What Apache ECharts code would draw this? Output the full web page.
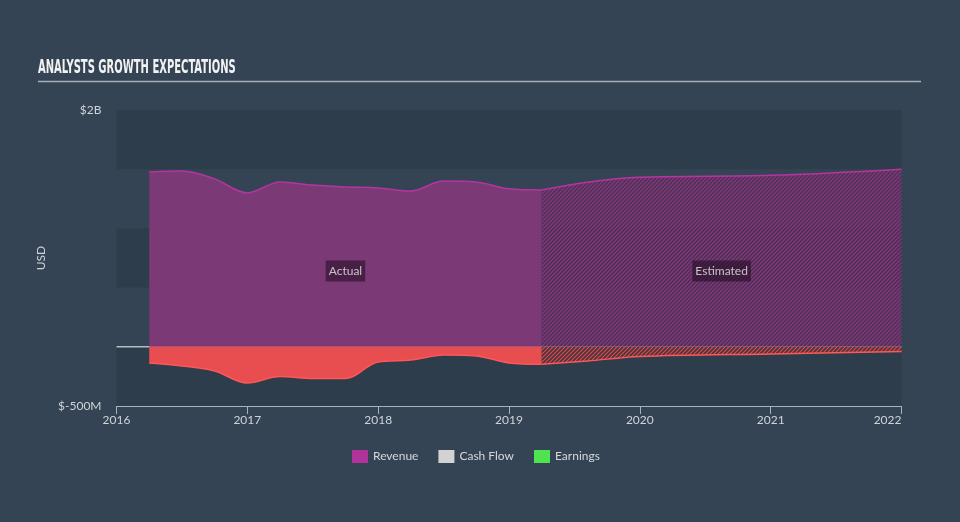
<!DOCTYPE html>
<html>
<head>
<meta charset="utf-8">
<script src="https://cdn.jsdelivr.net/npm/echarts@6/dist/echarts.min.js"></script>
<style>
html,body{margin:0;padding:0;background:#344454;}
#chart{width:960px;height:522px;}
</style>
</head>
<body>
<div id="chart"></div>
<script>
// ---- data (values in USD millions) ----
const revenueActualX = [2016.25, 2016.5, 2016.75, 2017.0, 2017.25, 2017.5, 2017.75, 2018.0, 2018.25, 2018.5, 2018.75, 2019.0, 2019.25];
const revenueActual  = [1476, 1484, 1418, 1300, 1392, 1366, 1350, 1342, 1316, 1400, 1392, 1334, 1324];
const revenueEstX    = [2019.25, 2019.6, 2020.0, 2021.0, 2022.0];
const revenueEst     = [1324, 1390, 1432, 1448, 1500];

const earningsActualX = [2016.25, 2016.5, 2016.75, 2017.0, 2017.25, 2017.5, 2017.75, 2018.0, 2018.25, 2018.5, 2018.75, 2019.0, 2019.25];
const earningsActual  = [-136, -162, -204, -306, -250, -268, -268, -128, -112, -70, -78, -136, -148];
const earningsEstX    = [2019.25, 2019.6, 2020.0, 2021.0, 2022.0];
const earningsEst     = [-148, -120, -82, -60, -40];

const cashFlowX = [];
const cashFlow  = [];

const xTicks = [2016, 2017, 2018, 2019, 2020, 2021, 2022];
const yMin = -500, yMax = 2000, yStep = 500;
const zeroLineX = [2016, 2022];
const regionLabels = [
  {name: 'Actual', x: 2017.75, y: 640},
  {name: 'Estimated', x: 2020.625, y: 640}
];
const legendNames = ['Revenue', 'Cash Flow', 'Earnings'];
const legendColors = ['#b0339b', '#d2d2d2', '#4fe34f'];

function pairs(xs, ys){ return xs.map((x,i)=>[x, ys[i]]); }

function hatch(color, baseColor, lw){
  const s = 4;
  const c = document.createElement('canvas');
  c.width = s; c.height = s;
  const ctx = c.getContext('2d');
  ctx.fillStyle = baseColor;
  ctx.fillRect(0,0,s,s);
  ctx.strokeStyle = color;
  ctx.lineWidth = lw;
  ctx.beginPath();
  for (let k = -1; k <= 1; k++) {
    ctx.moveTo(k*s - 1, s + 1);
    ctx.lineTo(k*s + s + 1, -1);
  }
  ctx.stroke();
  return {image: c, repeat: 'repeat'};
}

const font = 'Lato';
const revFill = '#7b3975';
const revLine = '#b5359f';
const earnFill = '#e84d4f';
const earnLine = '#ff5757';

const chart = echarts.init(document.getElementById('chart'), null, {renderer: 'canvas'});
const option = {
  backgroundColor: '#344454',
  animation: false,
  textStyle: {fontFamily: font},
  graphic: [
    {type: 'text', left: 38, top: 58, scaleX: 0.555,
     style: {text: 'ANALYSTS GROWTH EXPECTATIONS', fill: '#f2f2f2',
       font: 'bold 20px "Liberation Sans Narrow", "DejaVu Sans Condensed", sans-serif'}},
    {type: 'line', shape: {x1: 38, y1: 81.5, x2: 921, y2: 81.5},
     style: {stroke: '#a9b0b8', lineWidth: 1.5}}
  ],
  grid: {left: 116.5, right: 58.5, top: 110, bottom: 116, containLabel: false},
  legend: {
    bottom: 54, left: 347,
    icon: 'rect', itemWidth: 16, itemHeight: 13, itemGap: 20,
    selectedMode: false,
    textStyle: {color: '#d4d8dc', fontSize: 12, fontFamily: font},
    data: legendNames.map((n,i)=>({name: n, itemStyle: {color: legendColors[i], borderWidth: 0}}))
  },
  xAxis: {
    type: 'value', min: xTicks[0], max: xTicks[xTicks.length-1], interval: 1,
    axisLine: {show: true, onZero: false, lineStyle: {color: '#aab3bd', width: 1}},
    axisTick: {show: true, length: 8, lineStyle: {color: '#aab3bd'}},
    axisLabel: {color: '#cfd4d9', fontSize: 12, margin: 8, fontFamily: font,
      formatter: v => String(Math.round(v)), alignMaxLabel: 'right'},
    splitLine: {show: false}
  },
  yAxis: {
    type: 'value', min: yMin, max: yMax, interval: yStep,
    name: 'USD', nameLocation: 'middle', nameGap: 41, nameRotate: 90,
    nameTextStyle: {color: '#cfd4d9', fontSize: 12, fontFamily: font},
    axisLine: {show: false}, axisTick: {show: false},
    axisLabel: {color: '#cfd4d9', fontSize: 12, margin: 15, fontFamily: font, padding: [0, 0, 4, 0],
      formatter: v => v === yMax ? '$' + (v/1000) + 'B' : (v === yMin ? '$' + v + 'M' : '')},
    splitLine: {show: false},
    splitArea: {show: true, areaStyle: {color: ['#2e3d4b', 'rgba(0,0,0,0)']}}
  },
  series: [
    {name: 'zero', type: 'line', data: pairs(zeroLineX, [0, 0]), z: 1, silent: true,
     symbol: 'none', lineStyle: {color: '#b3bbc4', width: 1.5}},
    {name: 'Revenue', type: 'line', data: pairs(revenueActualX, revenueActual), z: 3,
     smooth: 0.35, symbol: 'none', itemStyle: {color: legendColors[0]},
     lineStyle: {color: revLine, width: 1.5}, areaStyle: {color: revFill, opacity: 1}},
    {name: 'Revenue', type: 'line', data: pairs(revenueEstX, revenueEst), z: 3,
     smooth: 0.35, symbol: 'none', itemStyle: {color: legendColors[0]},
     lineStyle: {color: revLine, width: 1.5},
     areaStyle: {color: hatch('rgba(128,58,122,1)', 'rgba(90,40,88,0.75)', 1.3), opacity: 1}},
    {name: 'Cash Flow', type: 'line', data: pairs(cashFlowX, cashFlow), z: 3,
     symbol: 'none', itemStyle: {color: legendColors[1]}, lineStyle: {color: '#d2d2d2'}},
    {name: 'Earnings', type: 'line', data: pairs(earningsActualX, earningsActual), z: 3,
     smooth: 0.35, symbol: 'none', itemStyle: {color: legendColors[2]},
     lineStyle: {color: earnLine, width: 1.5}, areaStyle: {color: earnFill, opacity: 1}},
    {name: 'Earnings', type: 'line', data: pairs(earningsEstX, earningsEst), z: 3,
     smooth: 0.35, symbol: 'none', itemStyle: {color: legendColors[2]},
     lineStyle: {color: earnLine, width: 1.5},
     areaStyle: {color: hatch('rgba(225,75,77,1)', 'rgba(70,52,62,0.92)', 1.2), opacity: 1}},
    {name: 'labels', type: 'scatter', z: 5, silent: true, symbolSize: 0,
     data: regionLabels.map(l => ({name: l.name, value: [l.x, l.y]})),
     label: {show: true, position: 'inside', formatter: p => p.name,
       color: '#e8e8e8', fontSize: 12, fontFamily: font,
       backgroundColor: 'rgba(25,8,25,0.65)', padding: [4, 3], lineHeight: 13}}
  ]
};
chart.setOption(option);
</script>
</body>
</html>
